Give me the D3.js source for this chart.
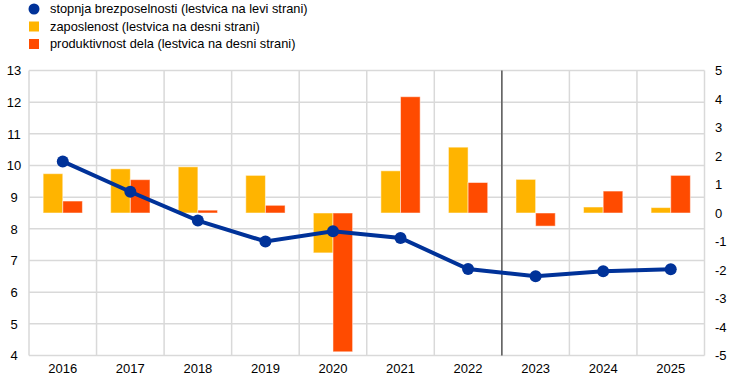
<!DOCTYPE html>
<html><head><meta charset="utf-8">
<script src="https://cdn.jsdelivr.net/npm/d3@7"></script>
<style>body{margin:0;background:#fff;}svg{display:block;font-family:"Liberation Sans",Arial,sans-serif;}</style>
</head><body><div id="chart"></div>
<script>
const years = ["2016","2017","2018","2019","2020","2021","2022","2023","2024","2025"];
const unemployment = [10.13, 9.17, 8.26, 7.6, 7.92, 7.71, 6.73, 6.5, 6.66, 6.72];
const employment = [1.38, 1.55, 1.62, 1.32, -1.4, 1.48, 2.31, 1.18, 0.21, 0.19];
const productivity = [0.42, 1.17, 0.1, 0.27, -4.87, 4.08, 1.07, -0.46, 0.77, 1.32];
const leftTicks = [4,5,6,7,8,9,10,11,12,13];
const rightTicks = [-5,-4,-3,-2,-1,0,1,2,3,4,5];
const legendLabels = ["stopnja brezposelnosti (lestvica na levi strani)","zaposlenost (lestvica na desni strani)","produktivnost dela (lestvica na desni strani)"];
const colors = {line:"#003299", emp:"#FFB400", prod:"#FF4B00"};

const W=744,H=387;
const m={left:29,right:704.5,top:70.5,bottom:355.5};
const svg=d3.select("#chart").append("svg").attr("width",W).attr("height",H);

const x=d3.scaleBand().domain(years).range([m.left,m.right]).padding(0);
const yL=d3.scaleLinear().domain([4,13]).range([m.bottom,m.top]);
const yR=d3.scaleLinear().domain([-5,5]).range([m.bottom,m.top]);

// grid
const g=svg.append("g");
g.selectAll(".hg").data(leftTicks).enter().append("line")
 .attr("x1",m.left).attr("x2",m.right).attr("y1",d=>yL(d)).attr("y2",d=>yL(d))
 .attr("stroke","#d9d9d9").attr("stroke-width",1.5);
const bounds=years.map(d=>x(d)).concat([m.right]);
g.selectAll(".vg").data(bounds).enter().append("line")
 .attr("x1",d=>d).attr("x2",d=>d).attr("y1",m.top).attr("y2",m.bottom)
 .attr("stroke","#d9d9d9").attr("stroke-width",1.5);

// bars
const inner=d3.scaleBand().domain(["emp","prod"]).range([0,x.bandwidth()]).paddingInner(0).paddingOuter(0.72);
const series=[{k:"emp",v:employment},{k:"prod",v:productivity}];
series.forEach(s=>{
  svg.append("g").selectAll("rect").data(years).enter().append("rect")
   .attr("x",(d)=>x(d)+inner(s.k))
   .attr("width",inner.bandwidth())
   .attr("y",(d,i)=>yR(Math.max(0,s.v[i])))
   .attr("height",(d,i)=>Math.abs(yR(s.v[i])-yR(0)))
   .attr("fill",colors[s.k]).attr("stroke","#fff").attr("stroke-opacity",0.5).attr("stroke-width",1);
});

// vertical separator between 2022 and 2023
svg.append("line").attr("x1",x("2023")).attr("x2",x("2023")).attr("y1",m.top).attr("y2",m.bottom)
 .attr("stroke","#595959").attr("stroke-width",1.5);

// line
const line=d3.line().x((d,i)=>x(years[i])+x.bandwidth()/2).y(d=>yL(d));
svg.append("path").datum(unemployment).attr("d",line).attr("fill","none")
 .attr("stroke",colors.line).attr("stroke-width",4);
svg.append("g").selectAll("circle").data(unemployment).enter().append("circle")
 .attr("cx",(d,i)=>x(years[i])+x.bandwidth()/2).attr("cy",d=>yL(d)).attr("r",6).attr("fill",colors.line);

// axes
const fs="13px";
const fmt=d=>String(d);
const axL=d3.axisLeft(yL).tickValues(leftTicks).tickFormat(fmt).tickSize(0).tickPadding(0);
svg.append("g").attr("transform","translate(20,0)").call(axL)
 .call(a=>a.select(".domain").remove())
 .selectAll("text").attr("font-size",fs).attr("fill","#000").attr("font-family","Liberation Sans, Arial, sans-serif").attr("text-anchor","middle").attr("x",-6);
const axR=d3.axisRight(yR).tickValues(rightTicks).tickFormat(fmt).tickSize(0).tickPadding(0);
svg.append("g").attr("transform","translate(715,0)").call(axR)
 .call(a=>a.select(".domain").remove())
 .selectAll("text").attr("font-size",fs).attr("fill","#000").attr("font-family","Liberation Sans, Arial, sans-serif");
const axB=d3.axisBottom(x).tickSize(0).tickPadding(0);
svg.append("g").attr("transform","translate(0,"+(m.bottom+8)+")").call(axB)
 .call(a=>a.select(".domain").remove())
 .selectAll("text").attr("font-size",fs).attr("fill","#000").attr("font-family","Liberation Sans, Arial, sans-serif");

// legend
const lg=svg.append("g");
const ly=[9,26.5,44];
lg.append("circle").attr("cx",34).attr("cy",ly[0]).attr("r",5.5).attr("fill",colors.line);
lg.append("rect").attr("x",29).attr("y",ly[1]-5).attr("width",10).attr("height",10).attr("fill",colors.emp);
lg.append("rect").attr("x",29).attr("y",ly[2]-5).attr("width",10).attr("height",10).attr("fill",colors.prod);
lg.selectAll("text").data(legendLabels).enter().append("text")
 .attr("x",50).attr("y",(d,i)=>ly[i]).attr("dy","0.35em").attr("font-size","12.8px").attr("fill","#000").text(d=>d);
</script></body></html>
